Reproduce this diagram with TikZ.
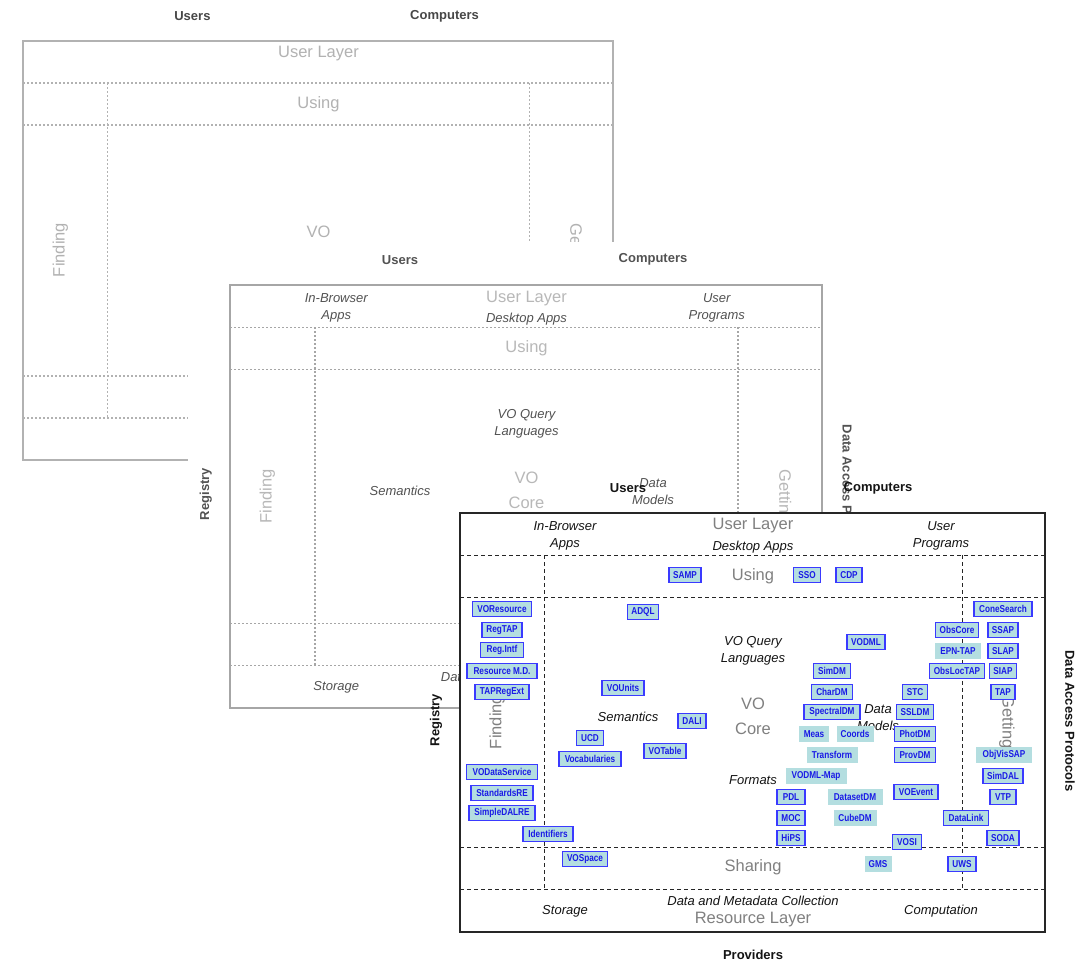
\documentclass[tikz,border=0pt]{standalone}
\usepackage{fontspec}
\setmainfont{Liberation Sans}
\newfontfamily\narrowfont[FakeStretch=0.82]{Liberation Sans}
\definecolor{boxfill}{HTML}{B4DEE0}
\definecolor{boxline}{HTML}{3A3AFF}
\definecolor{boxtext}{HTML}{1A1AE6}
\colorlet{darkC}{black}
\colorlet{grayC}{black!50}
\colorlet{lineC}{black}
\tikzset{
  stdb/.style={draw=boxline, line width=1.3pt, fill=boxfill, text=boxtext,
    font=\narrowfont\bfseries\fontsize{10}{11}\selectfont, inner sep=0pt, minimum height=15.5pt},
  stdbnb/.style={stdb, draw=none},
  hd/.style={font=\bfseries\fontsize{13}{15}\selectfont, text=darkC, inner sep=0pt},
  itl/.style={font=\itshape\fontsize{13}{17}\selectfont, text=darkC, align=center, inner sep=0pt},
  lay/.style={font=\fontsize{16.5}{25}\selectfont, text=grayC, align=center, inner sep=0pt},
  pframe/.style={draw=lineC, line width=1.2pt},
  pdiv/.style={draw=lineC, line width=0.9pt, dash pattern=on 4pt off 3pt}
}
\newcommand{\stdn}[6]{\node[#1, minimum width=#5pt] (#2) at (#3,#4) {#6};}
\begin{document}
\begin{tikzpicture}[x=1pt,y=-1pt]
\useasboundingbox[fill=white] (0,0) rectangle (1089,962);

% ---------------- back panel ----------------
\begin{scope}[shift={(23,41)}, xscale=1.0085,
  pframe/.style={draw=lineC, line width=2.4pt},
  pdiv/.style={draw=lineC, line width=1.2pt, dash pattern=on 2pt off 2pt}]
  \colorlet{darkC}{black!72}\colorlet{grayC}{black!30}\colorlet{lineC}{black!30}
  \draw[pframe] (0,0) rectangle (585,419);
  \draw[pdiv] (0,42) -- (585,42);
  \draw[pdiv] (0,84) -- (585,84);
  \draw[pdiv] (0,335) -- (585,335);
  \draw[pdiv] (0,377) -- (585,377);
  \draw[pdiv] (84,42) -- (84,377);
  \draw[pdiv] (502,42) -- (502,377);
  \node[hd] (b-users) at (168,-25) {Users};
  \node[hd] (b-computers) at (418,-25) {Computers};
  \node[lay] (b-userlayer) at (293,13) {User Layer};
  \node[lay] (b-using) at (293,63) {Using};
  \node[lay, rotate=90] (b-finding) at (37,209) {Finding};
  \node[lay] (b-vo) at (293,191) {VO};
  \node[lay, rotate=-90] (b-getting) at (547,209) {Getting};
\end{scope}

% cover of the middle panel
\fill[white] (188,242) rectangle (870,720);

% ---------------- middle panel ----------------
\begin{scope}[shift={(230,285)}, xscale=1.012, yscale=1.01,
  pframe/.style={draw=lineC, line width=2.2pt},
  pdiv/.style={draw=lineC, line width=1.2pt, dash pattern=on 2pt off 2pt}]
  \colorlet{darkC}{black!68}\colorlet{grayC}{black!28}\colorlet{lineC}{black!35}
  \draw[pframe] (0,0) rectangle (585,419);
  \draw[pdiv] (0,42) -- (585,42);
  \draw[pdiv] (0,84) -- (585,84);
  \draw[pdiv] (0,335) -- (585,335);
  \draw[pdiv] (0,377) -- (585,377);
  \draw[pdiv] (84,42) -- (84,377);
  \draw[pdiv] (502,42) -- (502,377);
  \node[hd] (m-users) at (168,-25) {Users};
  \node[hd] (m-computers) at (418,-25) {Computers};
  \node[itl] (m-inbrowser) at (105,22.5) {In-Browser\\Apps};
  \node[lay] (m-userlayer) at (293,13) {User Layer};
  \node[itl] (m-desktop) at (293,34) {Desktop Apps};
  \node[itl] (m-userprog) at (481,22.5) {User\\Programs};
  \node[lay] (m-using) at (293,63) {Using};
  \node[itl] (m-voql) at (293,137.5) {VO Query\\Languages};
  \node[lay, rotate=90] (m-finding) at (37,209) {Finding};
  \node[itl] (m-semantics) at (168,204) {Semantics};
  \node[lay] (m-vocore) at (293,203.5) {VO\\Core};
  \node[itl] (m-datamodels) at (418,204.5) {Data\\Models};
  \node[lay, rotate=-90] (m-getting) at (547,209) {Getting};
  \node[hd, rotate=90] (m-registry) at (-24,207) {Registry};
  \node[hd, rotate=-90] (m-dap) at (610,208) {Data Access Protocols};
  \node[itl] (m-storage) at (105,398) {Storage};
  \node[itl] (m-dmc) at (293,388) {Data and Metadata Collection};
\end{scope}

% ---------------- front panel ----------------
\begin{scope}[shift={(460,513)}]
  \colorlet{darkC}{black!92}\colorlet{grayC}{black!50}\colorlet{lineC}{black!85}
  \draw[pframe, fill=white] (0,0) rectangle (585,419);
  \draw[pdiv] (0,42) -- (585,42);
  \draw[pdiv] (0,84) -- (585,84);
  \draw[pdiv] (0,334) -- (585,334);
  \draw[pdiv] (0,376) -- (585,376);
  \draw[pdiv] (84,42) -- (84,376);
  \draw[pdiv] (502,42) -- (502,376);
  \node[hd] (f-users) at (168,-25) {Users};
  \node[hd] (f-computers) at (418,-25) {Computers};
  \node[hd] (f-providers) at (293,442) {Providers};
  \node[itl] (f-inbrowser) at (105,22.5) {In-Browser\\Apps};
  \node[lay] (f-userlayer) at (293,13) {User Layer};
  \node[itl] (f-desktop) at (293,34) {Desktop Apps};
  \node[itl] (f-userprog) at (481,22.5) {User\\Programs};
  \node[lay] (f-using) at (293,63) {Using};
  \node[itl] (f-voql) at (293,137.5) {VO Query\\Languages};
  \node[lay, rotate=90] (f-finding) at (37,209) {Finding};
  \node[itl] (f-semantics) at (168,204) {Semantics};
  \node[lay] (f-vocore) at (293,203.5) {VO\\Core};
  \node[itl] (f-datamodels) at (418,204.5) {Data\\Models};
  \node[itl] (f-formats) at (293,267) {Formats};
  \node[lay, rotate=-90] (f-getting) at (547,209) {Getting};
  \node[hd, rotate=90] (f-registry) at (-24,207) {Registry};
  \node[hd, rotate=-90] (f-dap) at (610,208) {Data Access Protocols};
  \node[lay] (f-sharing) at (293,354) {Sharing};
  \node[itl] (f-storage) at (105,398) {Storage};
  \node[itl] (f-dmc) at (293,388) {Data and Metadata Collection};
  \node[lay] (f-reslayer) at (293,407) {Resource Layer};
  \node[itl] (f-computation) at (481,398) {Computation};
\end{scope}

% ---------------- standards boxes ----------------
\stdn{stdb}{samp}{685}{575}{32}{SAMP}
\stdn{stdb}{sso}{807}{575}{27}{SSO}
\stdn{stdb}{cdp}{849}{575}{26}{CDP}
\stdn{stdb}{voresource}{502}{609}{59}{VOResource}
\stdn{stdb}{regtap}{502}{630}{40}{RegTAP}
\stdn{stdb}{regintf}{502}{650}{43}{Reg.Intf}
\stdn{stdb}{resmd}{502}{671}{70}{Resource M.D.}
\stdn{stdb}{tapregext}{502}{692}{54}{TAPRegExt}
\stdn{stdb}{vodataservice}{502}{772}{71}{VODataService}
\stdn{stdb}{standardsre}{502}{793}{62}{StandardsRE}
\stdn{stdb}{simpledalre}{502}{813}{66}{SimpleDALRE}
\stdn{stdb}{identifiers}{548}{834}{50}{Identifiers}
\stdn{stdb}{vospace}{585}{859}{45}{VOSpace}
\stdn{stdb}{adql}{643}{612}{31}{ADQL}
\stdn{stdb}{vounits}{623}{688}{42}{VOUnits}
\stdn{stdb}{ucd}{590}{738}{27}{UCD}
\stdn{stdb}{vocabularies}{590}{759}{62}{Vocabularies}
\stdn{stdb}{dali}{692}{721}{28}{DALI}
\stdn{stdb}{votable}{665}{751}{42}{VOTable}
\stdn{stdb}{vodml}{866}{642}{38}{VODML}
\stdn{stdb}{simdm}{832}{671}{37}{SimDM}
\stdn{stdb}{chardm}{832}{692}{41}{CharDM}
\stdn{stdb}{spectraldm}{832}{712}{56}{SpectralDM}
\stdn{stdbnb}{meas}{814}{734}{30}{Meas}
\stdn{stdbnb}{coords}{855}{734}{37}{Coords}
\stdn{stdbnb}{transform}{832}{755}{51}{Transform}
\stdn{stdbnb}{vodmlmap}{816}{776}{61}{VODML-Map}
\stdn{stdb}{pdl}{791}{797}{28}{PDL}
\stdn{stdb}{moc}{791}{818}{28}{MOC}
\stdn{stdb}{hips}{791}{838}{28}{HiPS}
\stdn{stdbnb}{datasetdm}{855}{797}{55}{DatasetDM}
\stdn{stdbnb}{cubedm}{855}{818}{43}{CubeDM}
\stdn{stdb}{stc}{915}{692}{25}{STC}
\stdn{stdb}{ssldm}{915}{712}{37}{SSLDM}
\stdn{stdb}{photdm}{915}{734}{41}{PhotDM}
\stdn{stdb}{provdm}{915}{755}{41}{ProvDM}
\stdn{stdb}{voevent}{916}{792}{44}{VOEvent}
\stdn{stdb}{vosi}{907}{842}{29}{VOSI}
\stdn{stdbnb}{gms}{878}{864}{27}{GMS}
\stdn{stdb}{uws}{962}{864}{28}{UWS}
\stdn{stdb}{datalink}{966}{818}{45}{DataLink}
\stdn{stdb}{conesearch}{1003}{609}{58}{ConeSearch}
\stdn{stdb}{obscore}{957}{630}{43}{ObsCore}
\stdn{stdbnb}{epntap}{958}{651}{46}{EPN-TAP}
\stdn{stdb}{obsloctap}{957}{671}{55}{ObsLocTAP}
\stdn{stdb}{ssap}{1003}{630}{30}{SSAP}
\stdn{stdb}{slap}{1003}{651}{30}{SLAP}
\stdn{stdb}{siap}{1003}{671}{27}{SIAP}
\stdn{stdb}{tap}{1003}{692}{24}{TAP}
\stdn{stdbnb}{objvissap}{1004}{755}{56}{ObjVisSAP}
\stdn{stdb}{simdal}{1003}{776}{40}{SimDAL}
\stdn{stdb}{vtp}{1003}{797}{26}{VTP}
\stdn{stdb}{soda}{1003}{838}{32}{SODA}
\end{tikzpicture}
\end{document}
